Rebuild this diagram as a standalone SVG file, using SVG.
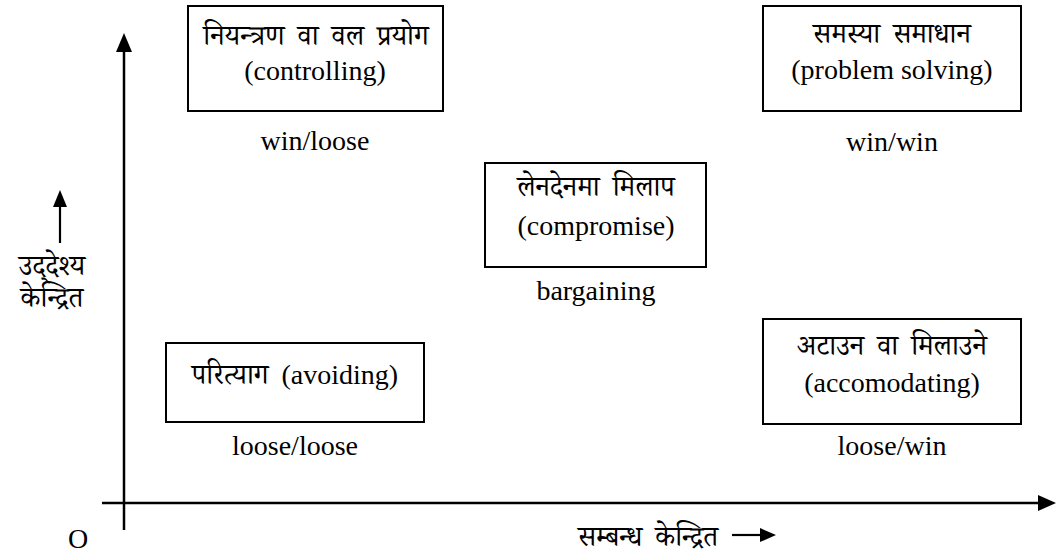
<svg xmlns="http://www.w3.org/2000/svg" width="1058" height="552" viewBox="0 0 1058 552">
<style>
.box{fill:#fff;stroke:#000;stroke-width:2}
.t{font-family:"Liberation Serif","Noto Serif Devanagari","Noto Sans Devanagari","Lohit Devanagari",serif;font-size:28px;fill:#000;text-anchor:middle}
.d{word-spacing:6px}
.ax{stroke:#000;stroke-width:2.5;fill:none}
.thin{stroke:#000;stroke-width:2.2;fill:none}
</style>
<rect width="1058" height="552" fill="#fff"/>
<g id="connectors">
<line class="ax" x1="124" y1="530" x2="124" y2="52"/>
<path d="M116,52 L132,52 L124,33 z" fill="#000"/>
<line class="ax" x1="102" y1="503" x2="1038" y2="503"/>
<path d="M1038,495 L1038,511 L1056,503 z" fill="#000"/>
<line class="thin" x1="60" y1="243" x2="60" y2="205"/>
<path d="M53,207 L67,207 L60,190 z" fill="#000"/>
<line class="thin" x1="732" y1="535" x2="762" y2="535"/>
<path d="M760,528 L760,542 L776,535 z" fill="#000"/>
</g>
<g id="controlling">
<rect class="box" x="188" y="6" width="255" height="105"/>
<text class="t d" x="316" y="45">नियन्त्रण वा वल प्रयोग</text>
<text class="t" x="315" y="80">(controlling)</text>
<text class="t" x="315" y="150">win/loose</text>
</g>
<g id="problem-solving">
<rect class="box" x="763" y="6" width="258" height="105"/>
<text class="t d" x="892" y="43">समस्या समाधान</text>
<text class="t" x="892" y="79">(problem solving)</text>
<text class="t" x="892" y="151">win/win</text>
</g>
<g id="compromise">
<rect class="box" x="485" y="163" width="221" height="104"/>
<text class="t d" x="596" y="196">लेनदेनमा मिलाप</text>
<text class="t" x="596" y="235">(compromise)</text>
<text class="t" x="596" y="300">bargaining</text>
</g>
<g id="avoiding">
<rect class="box" x="166" y="343" width="258" height="79"/>
<text class="t d" x="295" y="384">परित्याग (avoiding)</text>
<text class="t" x="295" y="455">loose/loose</text>
</g>
<g id="accomodating">
<rect class="box" x="763" y="319" width="258" height="105"/>
<text class="t d" x="892" y="355">अटाउन वा मिलाउने</text>
<text class="t" x="892" y="392">(accomodating)</text>
<text class="t" x="892" y="455">loose/win</text>
</g>
<g id="y-label">
<text class="t" x="52" y="275">उद्‌देश्य</text>
<text class="t" x="52" y="307">केन्द्रित</text>
</g>
<g id="x-label">
<text class="t d" x="648" y="546">सम्बन्ध केन्द्रित</text>
</g>
<g id="origin">
<text class="t" x="78" y="548">O</text>
</g>
</svg>
